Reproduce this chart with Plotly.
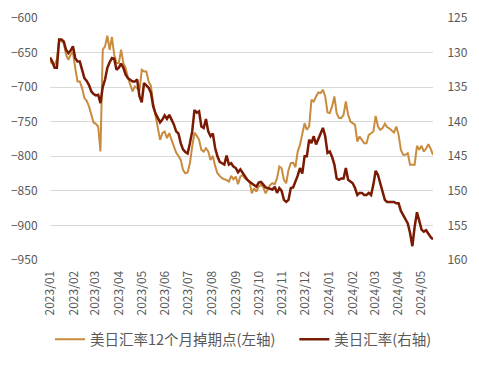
import pandas as pd
import plotly.graph_objects as go

# sampling grid (every 3 days from 2023-01-01)
dates = pd.date_range("2023-01-01", periods=168, freq="3D")

# USD/JPY 12M swap points (left axis)
swap_points = [
    -662.8, -666.1, -667.6, -660.4, -631.4, -633.8, -636.2, -653.1, -660.4, -653.1,
    -649.2, -672.4, -691.7, -691.7, -701.4, -715.9, -719.7, -727.9, -740.0, -751.1,
    -753.0, -756.9, -793.1, -645.9, -641.0, -625.6, -645.9, -627.5, -653.1, -665.2,
    -665.2, -645.9, -665.2, -672.4, -686.9, -698.0, -706.2, -699.0, -701.4, -705.3,
    -674.8, -677.2, -677.2, -691.7, -698.0, -723.1, -742.4, -761.7, -776.2, -766.6,
    -764.2, -773.8, -766.6, -776.2, -785.9, -794.6, -799.4, -805.2, -819.7, -824.5,
    -823.5, -810.0, -785.9, -765.6, -770.4, -776.2, -790.7, -793.1, -788.3, -793.1,
    -805.2, -799.4, -813.9, -824.5, -828.4, -831.7, -833.2, -834.2, -836.6, -828.4,
    -833.2, -829.3, -840.4, -829.3, -826.9, -831.7, -834.2, -836.6, -853.5, -846.2,
    -851.1, -843.8, -841.4, -844.8, -853.5, -846.2, -841.4, -839.0, -840.4, -831.7,
    -814.8, -817.3, -834.2, -839.0, -819.7, -810.0, -809.1, -815.8, -793.1, -783.5,
    -766.6, -752.1, -761.7, -756.9, -718.3, -720.7, -713.5, -707.7, -708.6, -703.8,
    -713.5, -736.6, -737.6, -727.9, -713.5, -737.6, -744.8, -744.8, -740.0, -720.7,
    -740.0, -749.7, -752.1, -754.5, -778.6, -771.4, -776.2, -781.1, -781.1, -769.0,
    -766.6, -764.2, -741.5, -756.9, -761.7, -759.3, -753.0, -757.9, -759.8, -762.7,
    -765.6, -756.9, -769.0, -790.7, -797.9, -797.9, -795.5, -812.4, -812.4, -812.4,
    -784.9, -790.7, -784.9, -793.1, -788.8, -782.5, -789.3, -797.9,
]

# USD/JPY spot (right axis, reversed)
usdjpy = [
    130.7, 131.3, 132.2, 132.2, 128.1, 128.1, 128.4, 129.6, 130.1, 129.7,
    129.1, 130.8, 131.3, 131.3, 132.5, 133.7, 134.1, 134.7, 135.6, 136.0,
    136.2, 136.1, 137.3, 135.0, 133.9, 132.2, 131.4, 130.8, 130.9, 132.5,
    132.2, 131.6, 132.2, 133.2, 133.7, 134.0, 134.2, 134.2, 133.9, 136.3,
    137.2, 134.4, 134.7, 135.1, 135.8, 137.8, 138.8, 139.5, 140.1, 139.7,
    139.1, 139.6, 139.0, 139.7, 140.4, 141.4, 141.7, 143.1, 144.0, 144.4,
    144.6, 143.1, 141.4, 138.3, 138.7, 138.5, 140.7, 140.9, 139.6, 141.4,
    142.1, 141.7, 143.8, 145.0, 145.8, 146.0, 146.2, 144.9, 146.2, 146.0,
    146.5, 146.7, 147.3, 146.9, 147.4, 147.9, 148.4, 148.7, 148.9, 149.1,
    149.4, 148.8, 148.7, 149.1, 149.5, 149.6, 149.7, 149.8, 149.4, 150.3,
    149.6, 150.0, 151.3, 151.6, 151.3, 149.6, 149.5, 148.7, 147.8, 146.7,
    147.5, 145.0, 145.0, 142.6, 143.1, 142.1, 143.3, 142.5, 141.7, 140.9,
    142.1, 144.5, 144.3, 145.1, 146.2, 148.2, 148.4, 148.2, 148.2, 146.7,
    148.4, 148.7, 148.9, 149.6, 150.6, 150.3, 150.3, 150.6, 150.6, 150.3,
    150.6, 149.1, 147.1, 147.7, 149.0, 149.9, 151.3, 151.6, 151.6, 151.6,
    151.6, 151.8, 151.8, 152.9, 153.5, 154.1, 154.7, 156.1, 158.0, 155.2,
    153.1, 154.3, 155.6, 155.9, 155.7, 156.2, 156.7, 157.0,
]

series_names = ["美日汇率12个月掉期点(左轴)", "美日汇率(右轴)"]
x_range = ["2023-01-01", "2024-05-16"]

GOLD = "#C98B3E"
DARK = "#7A1A02"
GRID = "#D9D9D9"
TICK = "#595959"
FONT = "Noto Sans CJK SC"
CLEAR = "rgba(0,0,0,0)"

fig = go.Figure()
fig.add_trace(go.Scatter(x=dates, y=swap_points, mode="lines", name=series_names[0],
                         line=dict(color=GOLD, width=2), yaxis="y", legend="legend"))
fig.add_trace(go.Scatter(x=dates, y=usdjpy, mode="lines", name=series_names[1],
                         line=dict(color=DARK, width=2.5), yaxis="y2", legend="legend2"))

legend_common = dict(orientation="h", yanchor="top", y=-0.262, xanchor="left",
                     font=dict(size=14.5, color=TICK), bgcolor=CLEAR, borderwidth=0)

fig.update_layout(
    width=479, height=365,
    margin=dict(l=50, r=46, t=18, b=105, autoexpand=False),
    paper_bgcolor="white", plot_bgcolor="white",
    font=dict(family=FONT, size=12, color=TICK),
    showlegend=True,
    legend=dict(x=-0.0, **legend_common),
    legend2=dict(x=0.638, **legend_common),
    xaxis=dict(type="date", range=x_range, tick0="2023-01-01", dtick="M1",
               tickformat="%Y/%m", tickangle=-90, showgrid=False, zeroline=False,
               showline=False, ticks="outside", ticklen=5, tickcolor=CLEAR,
               automargin=False, tickfont=dict(size=12, color=TICK)),
    xaxis2=dict(type="date", range=x_range, tick0="2023-01-01", dtick="M1",
                overlaying="x", side="top", anchor="y", showticklabels=False,
                ticks="inside", ticklen=4, tickcolor=GRID, showgrid=False,
                showline=False, zeroline=False, automargin=False),
    yaxis=dict(range=[-950, -600], dtick=50, showgrid=True, gridcolor=GRID,
               gridwidth=1, zeroline=False, showline=False, ticks="outside",
               ticklen=9, tickcolor=CLEAR, automargin=False,
               tickfont=dict(size=12, color=TICK)),
    yaxis2=dict(range=[160, 125], dtick=5, overlaying="y", side="right",
                showgrid=False, zeroline=False, showline=False, ticks="outside",
                ticklen=11, tickcolor=CLEAR, automargin=False,
                tickfont=dict(size=12, color=TICK)),
)

fig.write_html("out.html", config={"displayModeBar": False},
               post_script="document.body.style.margin='0';")
